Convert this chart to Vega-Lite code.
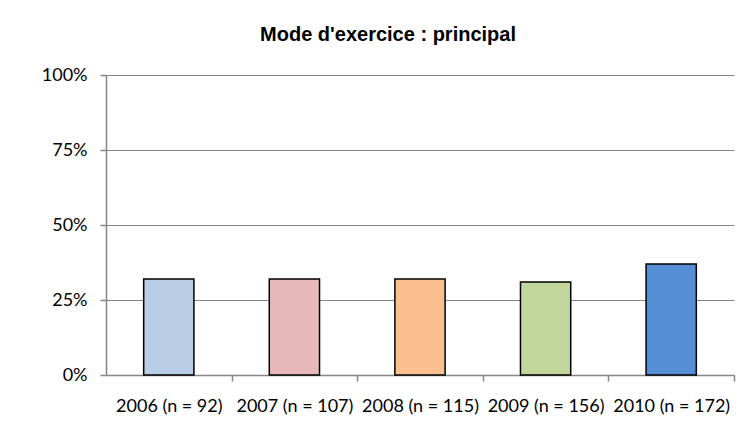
{
  "$schema": "https://vega.github.io/schema/vega-lite/v6.json",
  "autosize": {"type": "none"},
  "width": 628,
  "height": 300,
  "padding": {"left": 106, "top": 75, "right": 8, "bottom": 64},
  "background": "white",
  "title": {
    "text": "Mode d'exercice : principal",
    "font": "Liberation Sans",
    "fontSize": 20,
    "fontWeight": "bold",
    "color": "black",
    "anchor": "middle",
    "dx": -32,
    "offset": 21
  },
  "data": {
    "values": [
      {"annee": "2006 (n = 92)", "valeur": 0.32},
      {"annee": "2007 (n = 107)", "valeur": 0.32},
      {"annee": "2008 (n = 115)", "valeur": 0.32},
      {"annee": "2009 (n = 156)", "valeur": 0.31},
      {"annee": "2010 (n = 172)", "valeur": 0.37}
    ]
  },
  "mark": {"type": "bar", "stroke": "black", "strokeWidth": 1.5},
  "encoding": {
    "x": {
      "field": "annee",
      "type": "nominal",
      "sort": null,
      "scale": {"paddingInner": 0.6, "paddingOuter": 0.3},
      "axis": {
        "title": null,
        "labelAngle": 0,
        "labelFont": "Lato",
        "labelFontSize": 18,
        "labelColor": "black",
        "labelPadding": 16,
        "tickOffset": 62.8,
        "labelOffset": -62.8,
        "tickSize": 6,
        "tickColor": "#868686",
        "tickWidth": 1.5,
        "domainColor": "#868686",
        "domainWidth": 1.5,
        "grid": false
      }
    },
    "y": {
      "field": "valeur",
      "type": "quantitative",
      "scale": {"domain": [0, 1]},
      "axis": {
        "title": null,
        "values": [0, 0.25, 0.5, 0.75, 1],
        "format": ".0%",
        "labelFont": "Lato",
        "labelFontSize": 18,
        "labelColor": "black",
        "labelPadding": 13,
        "tickSize": 6,
        "tickColor": "#868686",
        "tickWidth": 1.5,
        "domainColor": "#868686",
        "domainWidth": 1.5,
        "grid": true,
        "gridColor": "#868686",
        "gridWidth": 1
      }
    },
    "color": {
      "field": "annee",
      "type": "nominal",
      "sort": null,
      "scale": {"range": ["#B9CDE5", "#E6B9B8", "#FAC090", "#C3D69B", "#558ED5"]},
      "legend": null
    }
  },
  "config": {"view": {"stroke": null}}
}
